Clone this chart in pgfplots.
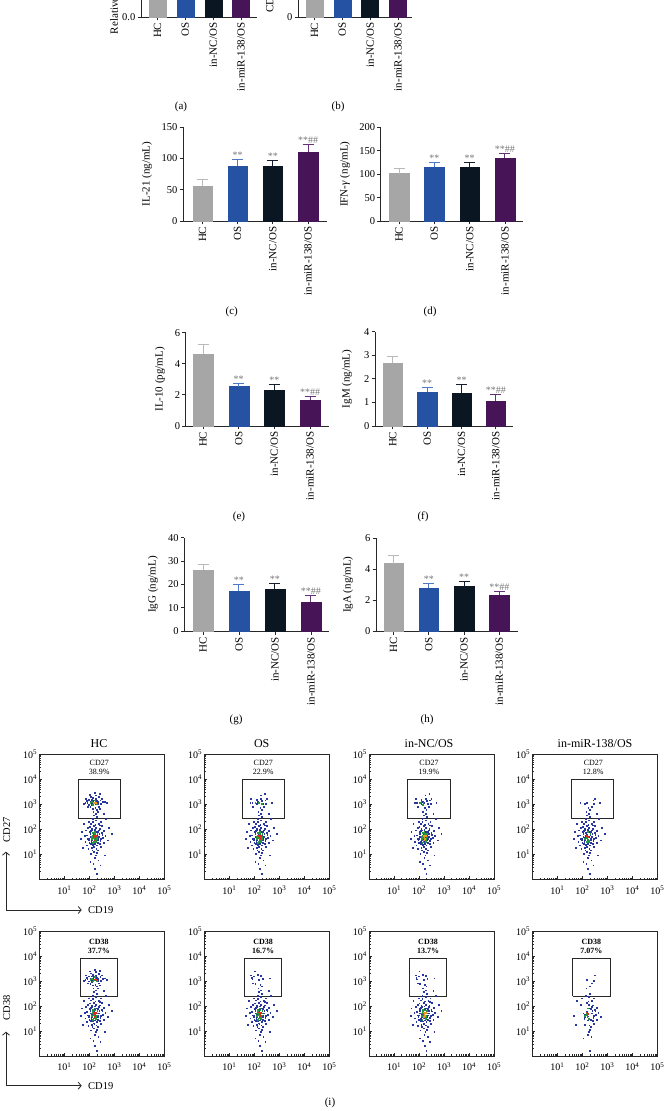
\documentclass[border=0pt]{standalone}
\usepackage{fontspec}
\setmainfont{Liberation Serif}
\usepackage{pgfplots}
\pgfplotsset{compat=1.18}
\usepackage{pgfplotstable}
\usetikzlibrary{arrows.meta}

\definecolor{cHC}{RGB}{166,166,166}
\definecolor{cOS}{RGB}{37,82,163}
\definecolor{cNC}{RGB}{10,22,34}
\definecolor{cMI}{RGB}{72,20,88}
\definecolor{eHC}{RGB}{185,185,185}
\definecolor{eOS}{RGB}{80,120,200}
\definecolor{eNC}{RGB}{20,30,45}
\definecolor{eMI}{RGB}{100,50,120}
\definecolor{axc}{RGB}{40,40,40}
\definecolor{annoc}{RGB}{120,120,120}
\definecolor{fblue}{RGB}{40,55,160}
\definecolor{fgreen}{RGB}{40,150,60}
\definecolor{fred}{RGB}{225,40,30}
\definecolor{forange}{RGB}{240,150,30}

\newcommand\fs[1]{\fontsize{#1}{#1}\selectfont}

\pgfplotstableread{
x y
2.21 1.62
2.05 1.80
2.35 1.45
2.12 1.95
2.40 1.70
1.98 1.55
2.28 2.05
2.18 1.30
2.50 1.85
2.08 1.40
2.32 1.90
2.15 1.72
2.25 1.58
1.92 1.75
2.45 1.52
2.02 2.10
2.38 2.20
2.20 1.10
2.10 1.25
2.30 1.35
2.55 1.65
1.88 1.95
2.27 2.35
2.14 2.28
2.42 2.02
2.00 1.62
2.22 0.85
2.17 0.60
2.35 1.15
2.06 1.02
2.60 1.92
1.85 1.50
2.48 1.28
2.24 1.88
2.11 1.66
2.33 1.78
2.19 2.12
2.03 1.88
2.44 1.40
2.29 1.50
1.95 2.05
2.52 2.12
2.09 1.48
2.36 1.62
2.23 1.42
2.16 1.85
2.40 1.95
1.90 1.35
2.26 0.95
2.13 1.15
2.58 1.45
2.07 2.22
2.31 2.48
2.20 2.55
2.46 2.30
1.97 1.20
2.37 0.75
2.24 0.40
2.65 1.72
1.82 1.72
2.12 1.55
2.27 1.70
2.18 1.78
2.34 1.55
2.05 1.70
2.22 1.98
2.41 1.80
2.15 1.38
2.29 1.22
2.01 1.45
2.47 1.60
2.10 2.00
2.36 1.88
2.19 1.50
2.25 2.18
1.94 1.62
2.53 1.78
2.08 1.92
2.32 1.05
2.21 1.28
2.14 2.40
2.43 2.15
2.00 2.30
2.28 2.62
2.17 2.70
1.70 1.90
2.75 1.55
2.80 2.05
1.75 1.25
2.68 2.40
1.78 2.20
2.62 0.95
2.05 0.70
2.45 0.55
2.30 0.20
2.90 1.80
1.68 1.60
2.58 2.60
}\lowb

\pgfplotstableread{
x y
2.20 1.65
2.15 1.75
2.28 1.55
2.24 1.82
2.12 1.60
2.31 1.70
2.18 1.50
2.26 1.62
2.22 1.90
2.14 1.45
2.33 1.80
2.20 1.72
2.27 1.48
2.16 1.85
2.24 1.58
2.30 1.62
2.19 1.68
2.11 1.70
}\lowg

\pgfplotstableread{
x y
2.22 1.68
2.25 1.60
2.19 1.74
2.27 1.72
2.21 1.55
}\lowr

\pgfplotstableread{
x y
2.20 3.05
2.05 3.10
2.35 3.00
1.90 3.12
2.45 3.15
2.12 2.95
2.28 3.20
1.98 2.98
2.40 2.90
2.15 3.25
1.85 3.05
2.55 3.08
2.25 2.85
2.08 3.30
2.32 3.12
2.00 3.18
2.48 3.00
2.18 3.15
1.95 2.90
2.38 3.28
2.10 3.02
2.62 3.10
2.26 3.35
1.80 3.00
2.30 2.78
2.14 2.82
2.42 3.40
2.05 2.88
2.70 3.05
2.22 3.45
1.88 3.22
2.36 2.70
2.50 3.22
2.02 3.38
2.16 3.08
2.28 3.02
1.93 3.06
2.44 2.82
2.10 3.18
2.34 3.08
}\upb

\pgfplotstableread{
x y
2.18 3.05
2.25 3.10
2.10 3.08
2.30 3.00
2.15 2.98
2.22 3.15
2.05 3.05
}\upg

\pgfplotstableread{
x y
2.20 3.06
2.27 3.04
}\upr

\pgfplotsset{
  barax/.style={scale only axis, ymin=0, clip=false,
    axis x line*=bottom, axis y line*=left,
    xtick={0,1,2,3}, xticklabels={HC,OS,in-NC/OS,in-miR-138/OS},
    xticklabel style={rotate=90, anchor=east, font=\fs{11}, inner xsep=2pt},
    yticklabel style={font=\fs{10.5}, inner xsep=2pt},
    tick align=outside, major tick length=3.5pt,
    tick style={axc, line width=0.8pt},
    axis line style={axc, line width=0.9pt},
    ylabel style={font=\fs{11}, anchor=center},
    /pgf/number format/assume math mode=true,
    /pgf/number format/1000 sep={}},
  barbase/.style={ybar, bar shift=0pt},
  barHC/.style={barbase, fill=cHC, draw=cHC, error bars/.cd, y dir=plus, y explicit,
    error bar style={eHC, line width=1pt}, error mark options={eHC, line width=1pt, rotate=90, mark size=5.5pt}},
  barOS/.style={barbase, fill=cOS, draw=cOS, error bars/.cd, y dir=plus, y explicit,
    error bar style={eOS, line width=1pt}, error mark options={eOS, line width=1pt, rotate=90, mark size=5.5pt}},
  barNC/.style={barbase, fill=cNC, draw=cNC, error bars/.cd, y dir=plus, y explicit,
    error bar style={eNC, line width=1pt}, error mark options={eNC, line width=1pt, rotate=90, mark size=5.5pt}},
  barMI/.style={barbase, fill=cMI, draw=cMI, error bars/.cd, y dir=plus, y explicit,
    error bar style={eMI, line width=1pt}, error mark options={eMI, line width=1pt, rotate=90, mark size=5.5pt}},
  flowax/.style={scale only axis, width=125pt, height=125pt,
    xmin=0, xmax=5, ymin=0, ymax=5,
    xtick={1,2,3,4,5}, ytick={1,2,3,4,5},
    xticklabels={10\textsuperscript{1},10\textsuperscript{2},10\textsuperscript{3},10\textsuperscript{4},10\textsuperscript{5}},
    yticklabels={10\textsuperscript{1},10\textsuperscript{2},10\textsuperscript{3},10\textsuperscript{4},10\textsuperscript{5}},
    minor xtick={0.301,0.477,0.602,0.699,0.778,0.845,0.903,0.954,1.301,1.477,1.602,1.699,1.778,1.845,1.903,1.954,2.301,2.477,2.602,2.699,2.778,2.845,2.903,2.954,3.301,3.477,3.602,3.699,3.778,3.845,3.903,3.954,4.301,4.477,4.602,4.699,4.778,4.845,4.903,4.954},
    minor ytick={0.301,0.477,0.602,0.699,0.778,0.845,0.903,0.954,1.301,1.477,1.602,1.699,1.778,1.845,1.903,1.954,2.301,2.477,2.602,2.699,2.778,2.845,2.903,2.954,3.301,3.477,3.602,3.699,3.778,3.845,3.903,3.954,4.301,4.477,4.602,4.699,4.778,4.845,4.903,4.954},
    tick align=inside, tick pos=left, major tick length=3pt, minor tick length=1.5pt,
    tick style={axc, line width=0.6pt},
    axis line style={axc, line width=0.9pt},
    ticklabel style={font=\fs{10}},
    xticklabel style={yshift=-3pt},
    yticklabel style={inner xsep=2pt},
    clip=false},
  fdot/.style={only marks, mark=square*, mark size=0.42pt, mark options={line width=0pt}},
  gate/.style={axc, line width=0.9pt, no marks},
}
\tikzset{anno/.style={anchor=base, font=\fs{10}, text=annoc, inner sep=0pt, yshift=1pt},
  gtxt/.style={font=\fs{8}, inner sep=0pt},
  plab/.style={font=\fs{11}}}

\begin{document}
\begin{tikzpicture}
\path[use as bounding box] (0pt,0pt) rectangle (664pt,1111pt);
\fill[white] (0pt,0pt) rectangle (664pt,1111pt);
\clip (0pt,0pt) rectangle (664pt,1111pt);

% (a)
\begin{axis}[barax, at={(141pt,1094pt)}, anchor=south west, width=116pt, height=94pt,
  xmin=-0.59, xmax=3.57, ymax=3, ytick={0,1,2,3}, yticklabels={0.0,1.0,2.0,3.0},
  bar width=17pt, ylabel={Relative miR-138 expression},
  ylabel style={at={(axis description cs:-0.222,0.5)}}]
\addplot[barHC] coordinates {(0,1.0) +- (0,0.1)};
\addplot[barOS] coordinates {(1,2.1) +- (0,0.2)};
\addplot[barNC] coordinates {(2,2.0) +- (0,0.2)};
\addplot[barMI] coordinates {(3,0.9) +- (0,0.1)};
\end{axis}

% (b)
\begin{axis}[barax, at={(298pt,1094pt)}, anchor=south west, width=114pt, height=94pt,
  xmin=-0.59, xmax=3.5, ymax=30, ytick={0,10,20,30},
  bar width=17pt, ylabel={CD19$^{+}$ B cells (\%)},
  ylabel style={at={(axis description cs:-0.245,0.5)}}]
\addplot[barHC] coordinates {(0,15) +- (0,2)};
\addplot[barOS] coordinates {(1,24) +- (0,2)};
\addplot[barNC] coordinates {(2,23) +- (0,2)};
\addplot[barMI] coordinates {(3,18) +- (0,2)};
\end{axis}
\node[plab] at (181pt,1004pt) {(a)};
\node[plab] at (338pt,1004pt) {(b)};

% (c)
\begin{axis}[barax, at={(183pt,890pt)}, anchor=south west, width=144pt, height=93.7pt,
  xmin=-0.554, xmax=3.54, ymax=150, ytick={0,50,100,150},
  bar width=19.5pt, ylabel={IL-21 (ng/mL)},
  ylabel style={at={(axis description cs:-0.25,0.5)}}]
\addplot[barHC] coordinates {(0,56) +- (0,10)};
\addplot[barOS] coordinates {(1,88.5) +- (0,9.5)};
\addplot[barNC] coordinates {(2,87) +- (0,10)};
\addplot[barMI] coordinates {(3,110.5) +- (0,11.5)};
\node[anno] at (axis cs:1,98) {**};
\node[anno] at (axis cs:2,97) {**};
\node[anno] at (axis cs:3,122) {**\#\#};
\end{axis}

% (d)
\begin{axis}[barax, at={(380.7pt,890pt)}, anchor=south west, width=142.3pt, height=93.7pt,
  xmin=-0.52, xmax=3.51, ymax=200, ytick={0,50,100,150,200},
  bar width=19.5pt, ylabel={IFN-\textit{γ} (ng/mL)},
  ylabel style={at={(axis description cs:-0.251,0.5)}}]
\addplot[barHC] coordinates {(0,101) +- (0,10)};
\addplot[barOS] coordinates {(1,115) +- (0,9.5)};
\addplot[barNC] coordinates {(2,114) +- (0,10)};
\addplot[barMI] coordinates {(3,134) +- (0,11)};
\node[anno] at (axis cs:1,124.5) {**};
\node[anno] at (axis cs:2,124) {**};
\node[anno] at (axis cs:3,145) {**\#\#};
\end{axis}
\node[plab] at (231.7pt,799.3pt) {(c)};
\node[plab] at (430pt,799.3pt) {(d)};

% (e)
\begin{axis}[barax, at={(185.7pt,685pt)}, anchor=south west, width=143.3pt, height=93.3pt,
  xmin=-0.485, xmax=3.53, ymax=6, ytick={0,2,4,6},
  bar width=20pt, ylabel={IL-10 (pg/mL)},
  ylabel style={at={(axis description cs:-0.179,0.5)}}]
\addplot[barHC] coordinates {(0,4.6) +- (0,0.65)};
\addplot[barOS] coordinates {(1,2.53) +- (0,0.21)};
\addplot[barNC] coordinates {(2,2.33) +- (0,0.33)};
\addplot[barMI] coordinates {(3,1.65) +- (0,0.26)};
\node[anno] at (axis cs:1,2.74) {**};
\node[anno] at (axis cs:2,2.66) {**};
\node[anno] at (axis cs:3,1.91) {**\#\#};
\end{axis}

% (f)
\begin{axis}[barax, at={(375pt,685pt)}, anchor=south west, width=138pt, height=94.3pt,
  xmin=-0.52, xmax=3.5, ymax=4, ytick={0,1,2,3,4},
  bar width=19.5pt, ylabel={IgM (ng/mL)},
  ylabel style={at={(axis description cs:-0.203,0.5)}}]
\addplot[barHC] coordinates {(0,2.68) +- (0,0.26)};
\addplot[barOS] coordinates {(1,1.43) +- (0,0.2)};
\addplot[barNC] coordinates {(2,1.40) +- (0,0.34)};
\addplot[barMI] coordinates {(3,1.05) +- (0,0.28)};
\node[anno] at (axis cs:1,1.63) {**};
\node[anno] at (axis cs:2,1.74) {**};
\node[anno] at (axis cs:3,1.33) {**\#\#};
\end{axis}
\node[plab] at (239pt,594.5pt) {(e)};
\node[plab] at (423pt,594.5pt) {(f)};

% (g)
\begin{axis}[barax, at={(184.3pt,479.7pt)}, anchor=south west, width=145pt, height=93.6pt,
  xmin=-0.52, xmax=3.51, ymax=40, ytick={0,10,20,30,40},
  bar width=20pt, ylabel={IgG (ng/mL)},
  ylabel style={at={(axis description cs:-0.216,0.5)}}]
\addplot[barHC] coordinates {(0,26.2) +- (0,2.4)};
\addplot[barOS] coordinates {(1,17.1) +- (0,2.7)};
\addplot[barNC] coordinates {(2,18.1) +- (0,2.4)};
\addplot[barMI] coordinates {(3,12.4) +- (0,2.7)};
\node[anno] at (axis cs:1,19.8) {**};
\node[anno] at (axis cs:2,20.5) {**};
\node[anno] at (axis cs:3,15.1) {**\#\#};
\end{axis}

% (h)
\begin{axis}[barax, at={(376pt,479.7pt)}, anchor=south west, width=141.7pt, height=93.3pt,
  xmin=-0.5, xmax=3.52, ymax=6, ytick={0,2,4,6},
  bar width=19.5pt, ylabel={IgA (ng/mL)},
  ylabel style={at={(axis description cs:-0.198,0.5)}}]
\addplot[barHC] coordinates {(0,4.35) +- (0,0.54)};
\addplot[barOS] coordinates {(1,2.80) +- (0,0.28)};
\addplot[barNC] coordinates {(2,2.87) +- (0,0.34)};
\addplot[barMI] coordinates {(3,2.33) +- (0,0.24)};
\node[anno] at (axis cs:1,3.08) {**};
\node[anno] at (axis cs:2,3.21) {**};
\node[anno] at (axis cs:3,2.57) {**\#\#};
\end{axis}
\node[plab] at (236pt,391pt) {(g)};
\node[plab] at (427pt,391pt) {(h)};

% (i) row 1 titles
\node[font=\fs{12}] at (99pt,367pt) {HC};
\node[font=\fs{12}] at (261.7pt,367pt) {OS};
\node[font=\fs{12}] at (429pt,367pt) {in-NC/OS};
\node[font=\fs{12}] at (595pt,367pt) {in-miR-138/OS};

% row 1 HC
\begin{axis}[flowax, at={(39.3pt,231.7pt)}, anchor=south west]
\addplot[fdot, fblue] table[x=x,y=y] {\lowb};
\addplot[fdot, fblue] table[x=x,y=y] {\upb};
\addplot[fdot, fgreen] table[x=x,y=y] {\lowg};
\addplot[fdot, fgreen] table[x=x,y=y] {\upg};
\addplot[fdot, fred] table[x=x,y=y] {\lowr};
\addplot[fdot, forange] table[x=x,y=y] {\upr};
\addplot[gate] coordinates {(1.576,2.424) (3.256,2.424) (3.256,4.0) (1.576,4.0) (1.576,2.424)};
\node[gtxt] at (axis cs:2.4,4.64) {CD27};
\node[gtxt] at (axis cs:2.4,4.29) {38.9\%};
\end{axis}

% row 1 OS
\begin{axis}[flowax, at={(204.3pt,231.7pt)}, anchor=south west]
\addplot[fdot, fblue] table[x=x,y=y] {\lowb};
\addplot[fdot, fblue, each nth point=2] table[x=x,y=y] {\upb};
\addplot[fdot, fgreen] table[x=x,y=y] {\lowg};
\addplot[fdot, fgreen, each nth point=3] table[x=x,y=y] {\upg};
\addplot[fdot, fred] table[x=x,y=y] {\lowr};
\addplot[gate] coordinates {(1.52,2.424) (3.2,2.424) (3.2,4.0) (1.52,4.0) (1.52,2.424)};
\node[gtxt] at (axis cs:2.36,4.64) {CD27};
\node[gtxt] at (axis cs:2.36,4.29) {22.9\%};
\end{axis}

% row 1 in-NC
\begin{axis}[flowax, at={(369pt,231.7pt)}, anchor=south west]
\addplot[fdot, fblue] table[x=x,y=y] {\lowb};
\addplot[fdot, fblue, each nth point=2] table[x=x,y=y] {\upb};
\addplot[fdot, fgreen] table[x=x,y=y] {\lowg};
\addplot[fdot, fgreen, each nth point=2] table[x=x,y=y] {\upg};
\addplot[fdot, forange] table[x=x,y=y] {\lowr};
\addplot[gate] coordinates {(1.548,2.424) (3.252,2.424) (3.252,4.0) (1.548,4.0) (1.548,2.424)};
\node[gtxt] at (axis cs:2.4,4.64) {CD27};
\node[gtxt] at (axis cs:2.4,4.29) {19.9\%};
\end{axis}

% row 1 in-miR
\begin{axis}[flowax, at={(532.3pt,231.7pt)}, anchor=south west]
\addplot[fdot, fblue] table[x=x,y=y] {\lowb};
\addplot[fdot, fblue, each nth point=4] table[x=x,y=y] {\upb};
\addplot[fdot, fgreen, each nth point=2] table[x=x,y=y] {\lowg};
\addplot[fdot, fred, each nth point=2] table[x=x,y=y] {\lowr};
\addplot[gate] coordinates {(1.56,2.424) (3.24,2.424) (3.24,4.0) (1.56,4.0) (1.56,2.424)};
\node[gtxt] at (axis cs:2.44,4.64) {CD27};
\node[gtxt] at (axis cs:2.44,4.29) {12.8\%};
\end{axis}

% row 2 HC
\begin{axis}[flowax, at={(39.3pt,55pt)}, anchor=south west]
\addplot[fdot, fblue] table[x=x,y=y] {\lowb};
\addplot[fdot, fblue] table[x=x,y=y] {\upb};
\addplot[fdot, fgreen] table[x=x,y=y] {\lowg};
\addplot[fdot, fgreen] table[x=x,y=y] {\upg};
\addplot[fdot, fred] table[x=x,y=y] {\lowr};
\addplot[fdot, fred] table[x=x,y=y] {\upr};
\addplot[gate] coordinates {(1.64,2.385) (3.12,2.385) (3.12,3.89) (1.64,3.89) (1.64,2.385)};
\node[gtxt, font=\bfseries\fs{8}] at (axis cs:2.38,4.57) {CD38};
\node[gtxt, font=\bfseries\fs{8}] at (axis cs:2.38,4.2) {37.7\%};
\end{axis}

% row 2 OS
\begin{axis}[flowax, at={(204.3pt,55pt)}, anchor=south west]
\addplot[fdot, fblue] table[x=x,y=y] {\lowb};
\addplot[fdot, fblue, each nth point=3] table[x=x,y=y] {\upb};
\addplot[fdot, fgreen] table[x=x,y=y] {\lowg};
\addplot[fdot, fred] table[x=x,y=y] {\lowr};
\addplot[gate] coordinates {(1.6,2.385) (3.1,2.385) (3.1,3.89) (1.6,3.89) (1.6,2.385)};
\node[gtxt, font=\bfseries\fs{8}] at (axis cs:2.35,4.57) {CD38};
\node[gtxt, font=\bfseries\fs{8}] at (axis cs:2.35,4.2) {16.7\%};
\end{axis}

% row 2 in-NC
\begin{axis}[flowax, at={(369pt,55pt)}, anchor=south west]
\addplot[fdot, fblue] table[x=x,y=y] {\lowb};
\addplot[fdot, fblue, each nth point=3] table[x=x,y=y] {\upb};
\addplot[fdot, fgreen] table[x=x,y=y] {\lowg};
\addplot[fdot, forange] table[x=x,y=y] {\lowr};
\addplot[gate] coordinates {(1.61,2.385) (3.1,2.385) (3.1,3.89) (1.61,3.89) (1.61,2.385)};
\node[gtxt, font=\bfseries\fs{8}] at (axis cs:2.36,4.57) {CD38};
\node[gtxt, font=\bfseries\fs{8}] at (axis cs:2.36,4.2) {13.7\%};
\end{axis}

% row 2 in-miR
\begin{axis}[flowax, at={(532.3pt,55pt)}, anchor=south west]
\addplot[fdot, fblue, each nth point=2] table[x=x,y=y] {\lowb};
\addplot[fdot, fblue, each nth point=8] table[x=x,y=y] {\upb};
\addplot[fdot, fgreen, each nth point=4] table[x=x,y=y] {\lowg};
\addplot[fdot, fred, each nth point=2] table[x=x,y=y] {\lowr};
\addplot[gate] coordinates {(1.616,2.385) (3.11,2.385) (3.11,3.89) (1.616,3.89) (1.616,2.385)};
\node[gtxt, font=\bfseries\fs{8}] at (axis cs:2.36,4.57) {CD38};
\node[gtxt, font=\bfseries\fs{8}] at (axis cs:2.36,4.2) {7.07\%};
\end{axis}

% axis arrows
\draw[axc, line width=0.8pt, -{Straight Barb[length=3pt,width=7pt]}] (6pt,201pt) -- (6pt,259.3pt);
\draw[axc, line width=0.8pt, -{Straight Barb[length=3pt,width=7pt]}] (6pt,201pt) -- (81.7pt,201pt);
\node[font=\fs{10.5}, anchor=west, inner sep=0pt] at (88pt,201pt) {CD19};
\node[font=\fs{10.5}, rotate=90] at (6.7pt,281pt) {CD27};
\draw[axc, line width=0.8pt, -{Straight Barb[length=3pt,width=7pt]}] (6pt,25.3pt) -- (6pt,79.3pt);
\draw[axc, line width=0.8pt, -{Straight Barb[length=3pt,width=7pt]}] (6pt,25.3pt) -- (81.7pt,25.3pt);
\node[font=\fs{10.5}, anchor=west, inner sep=0pt] at (88pt,25.3pt) {CD19};
\node[font=\fs{10.5}, rotate=90] at (6.7pt,103.5pt) {CD38};
\node[plab] at (330pt,8.3pt) {(i)};
\end{tikzpicture}
\end{document}
